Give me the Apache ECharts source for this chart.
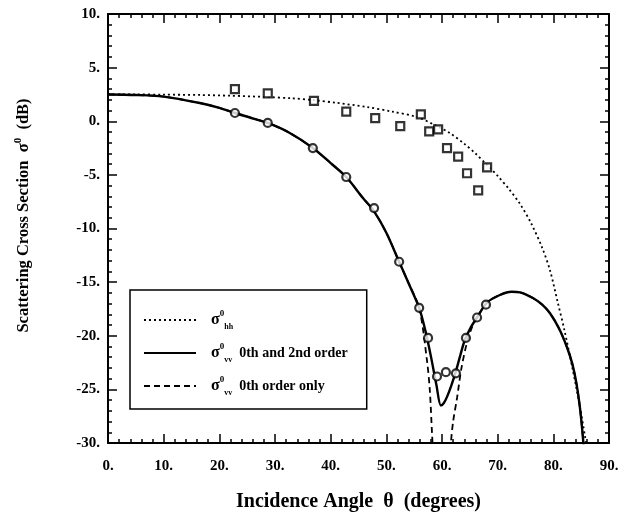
<!DOCTYPE html>
<html>
<head>
<meta charset="utf-8">
<script src="https://cdn.jsdelivr.net/npm/echarts@6/dist/echarts.min.js"></script>
<style>
html,body{margin:0;padding:0;background:#fff;}
#chart{width:634px;height:528px;}
</style>
</head>
<body>
<div id="chart"></div>
<script>
// ---- data ----
const hhAngle = [0,5,10,16.5,22,28.6,33,36.8,41,46.5,51,55.5,58.5,61.4,64,66,68.1,70,72,74,76,78,79.4,80.8,82,83.5,84.7,85.7,86.5];
const hhDb    = [2.5,2.5,2.48,2.45,2.38,2.26,2.14,1.98,1.72,1.33,0.9,0.4,-0.3,-1.1,-2.1,-3.0,-4.08,-5.1,-6.3,-7.7,-9.5,-11.8,-13.9,-16.9,-19.5,-23.2,-26.4,-29.4,-32];

const vv2Angle = [0,5,10,16.5,20,22.8,25.5,28.7,32.5,36.8,40,42.8,45.8,47.8,50,52.3,54,55.9,57,58,59,59.8,60.3,60.9,61.7,62.5,63.3,64.1,65.2,66.3,68.1,70.4,72.5,74,76.4,78,79.4,81,82.4,83.4,84.2,84.8,85.3,85.6];
const vv2Db    = [2.5,2.45,2.3,1.7,1.25,0.77,0.35,-0.16,-1.05,-2.49,-3.9,-5.2,-7.16,-8.4,-10.4,-13.1,-15.1,-17.4,-19.5,-21.9,-24.6,-26.5,-26.3,-25.7,-24.6,-23.3,-21.8,-20.4,-19.2,-18.3,-16.9,-16.2,-15.9,-15.95,-16.5,-17.1,-17.9,-19.3,-21.0,-22.6,-24.6,-26.8,-29.4,-31.5];

const vv0Angle = [0,5,10,16.5,20,22.8,25.5,28.7,32.5,36.8,40,42.8,45.8,47.8,50,52.3,54,55.9,57.3,57.8,58.2,58.6,59.5,60.5,61.3,61.6,62.0,62.7,63.5,64.5,65.4,66.3,68.1,70.4,72.5,74,76.4,78,79.4,81,82.4,83.4,84.2,84.8,85.3,85.6];
const vv0Db    = [2.5,2.45,2.3,1.7,1.25,0.77,0.35,-0.16,-1.05,-2.49,-3.9,-5.2,-7.16,-8.4,-10.4,-13.1,-15.1,-17.4,-22.3,-25.0,-29.0,-33,-40,-40,-33,-30,-28.0,-25.8,-23.0,-20.6,-19.2,-18.3,-16.9,-16.2,-15.9,-15.95,-16.5,-17.1,-17.9,-19.3,-21.0,-22.6,-24.6,-26.8,-29.4,-31.5];

const hhMeasAngle = [22.8,28.7,37.0,42.8,48.0,52.5,56.2,57.7,59.3,60.9,62.9,64.5,66.5,68.1];
const hhMeasDb    = [3.0,2.6,1.9,0.9,0.3,-0.45,0.65,-0.95,-0.75,-2.5,-3.3,-4.85,-6.45,-4.3];

const vvMeasAngle = [22.8,28.7,36.8,42.8,47.8,52.3,55.9,57.5,59.1,60.7,62.5,64.3,66.3,67.9];
const vvMeasDb    = [0.77,-0.16,-2.5,-5.2,-8.1,-13.1,-17.4,-20.2,-23.8,-23.4,-23.5,-20.2,-18.3,-17.1];

const xTicks = {min:0, max:90, step:10};
const yTicks = {min:-30, max:10, step:5};

const legendNames = {
  hh:  '{s|σ}{sup|0}{sub|hh}',
  vv2: '{s|σ}{sup|0}{sub|vv}{t|  0th and 2nd order}',
  vv0: '{s|σ}{sup|0}{sub|vv}{t|  0th order only}'
};

// ---- build ----
const zip = (a,b) => a.map((v,i)=>[v,b[i]]);
const serif = '"Liberation Serif","DejaVu Serif",serif';

const axisCommon = {
  axisLine:{show:true, onZero:false, lineStyle:{color:'#000', width:2}},
  axisTick:{show:true, inside:true, length:9, lineStyle:{color:'#000', width:1.5}},
  minorTick:{show:true, splitNumber:5, length:4, lineStyle:{color:'#000', width:1.5}},
  splitLine:{show:false}
};

const chart = echarts.init(document.getElementById('chart'), null, {renderer:'canvas'});
chart.setOption({
  animation:false,
  backgroundColor:'#fff',
  grid:{left:108, right:25, top:14, bottom:85, containLabel:false},
  xAxis:[
    Object.assign({
      type:'value', min:xTicks.min, max:xTicks.max, interval:xTicks.step, position:'bottom',
      axisLabel:{formatter:v=>v+'.', color:'#000', fontFamily:serif, fontWeight:'bold', fontSize:15, margin:16},
      name:'Incidence Angle  θ  (degrees)', nameLocation:'middle', nameGap:49,
      nameTextStyle:{color:'#000', fontFamily:serif, fontWeight:'bold', fontSize:20}
    }, axisCommon),
    Object.assign({
      type:'value', min:xTicks.min, max:xTicks.max, interval:xTicks.step, position:'top',
      axisLabel:{show:false}
    }, axisCommon)
  ],
  yAxis:[
    Object.assign({
      type:'value', min:yTicks.min, max:yTicks.max, interval:yTicks.step, position:'left',
      axisLabel:{formatter:v=>v+'.', color:'#000', fontFamily:serif, fontWeight:'bold', fontSize:15, margin:8},
      name:'{a|Scattering Cross Section  σ}{sup|0}{a|  (dB)}', nameLocation:'middle', nameGap:73,
      nameTextStyle:{color:'#000', fontFamily:serif, fontWeight:'bold', fontSize:16.5, padding:[0,0,0,26],
        rich:{
          a:{fontFamily:serif, fontWeight:'bold', fontSize:16.5, lineHeight:22, color:'#000'},
          sup:{fontFamily:serif, fontWeight:'bold', fontSize:11, verticalAlign:'top', color:'#000'}
        }}
    }, axisCommon),
    Object.assign({
      type:'value', min:yTicks.min, max:yTicks.max, interval:yTicks.step, position:'right',
      axisLabel:{show:false}
    }, axisCommon)
  ],
  legend:{
    orient:'vertical', left:130, top:290,
    data:['hh','vv2','vv0'],
    formatter:n=>legendNames[n],
    itemWidth:52, itemHeight:14, itemGap:11,
    padding:[19,19,12,13],
    borderColor:'#000', borderWidth:1.5,
    selectedMode:false,
    itemStyle:{color:'rgba(0,0,0,0)', borderWidth:0, opacity:0},
    textStyle:{color:'#000', fontFamily:serif, fontWeight:'bold',
      rich:{
        s:{fontFamily:serif, fontWeight:'bold', fontSize:16, lineHeight:22, padding:[0,0,0,10], color:'#000'},
        sup:{fontFamily:serif, fontWeight:'bold', fontSize:9, verticalAlign:'top', color:'#000'},
        sub:{fontFamily:serif, fontWeight:'bold', fontSize:8, verticalAlign:'bottom', color:'#000'},
        t:{fontFamily:serif, fontWeight:'bold', fontSize:14, color:'#000'}
      }}
  },
  series:[
    {name:'hh', type:'line', data:zip(hhAngle,hhDb), showSymbol:false, symbol:'none', smooth:0.3,
     lineStyle:{color:'#000', width:1.8, type:[2,3]}, itemStyle:{color:'#000'}, z:2},
    {name:'vv2', type:'line', data:zip(vv2Angle,vv2Db), showSymbol:false, symbol:'none', smooth:0.3,
     lineStyle:{color:'#000', width:2.4, type:'solid'}, itemStyle:{color:'#000'}, z:3},
    {name:'vv0', type:'line', data:zip(vv0Angle,vv0Db), showSymbol:false, symbol:'none', smooth:0.3,
     lineStyle:{color:'#000', width:1.8, type:[6,4]}, itemStyle:{color:'#000'}, z:2},
    {name:'hhMeas', type:'scatter', data:zip(hhMeasAngle,hhMeasDb), symbol:'rect', symbolSize:8,
     itemStyle:{color:'#fff', borderColor:'#000', borderWidth:2.2}, z:4},
    {name:'vvMeas', type:'scatter', data:zip(vvMeasAngle,vvMeasDb), symbol:'circle', symbolSize:8,
     itemStyle:{color:'#fff', borderColor:'#000', borderWidth:2.2}, z:4}
  ]
});
</script>
</body>
</html>
